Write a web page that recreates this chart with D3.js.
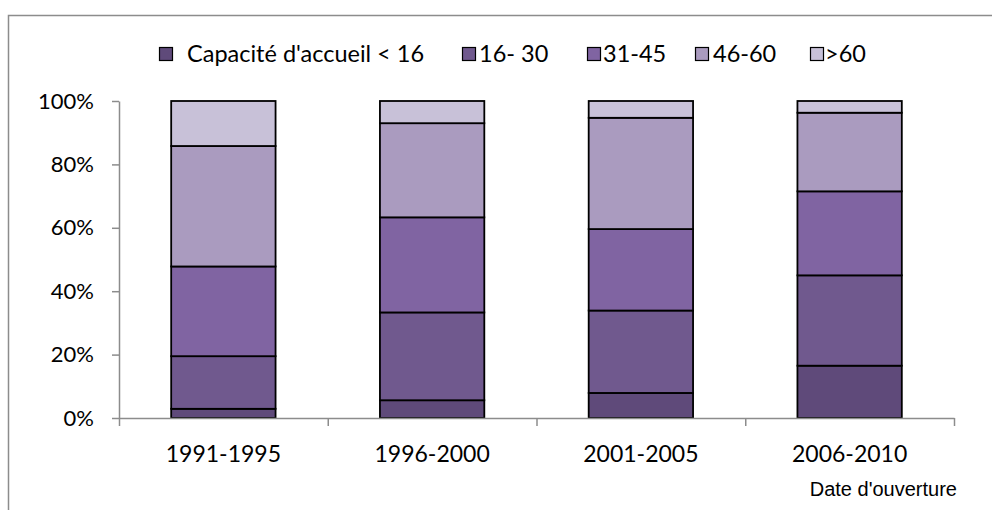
<!DOCTYPE html>
<html>
<head>
<meta charset="utf-8">
<script src="https://cdn.jsdelivr.net/npm/d3@7/dist/d3.min.js"></script>
<style>
  html, body { margin: 0; padding: 0; background: #fff; }
  svg { display: block; }
  text { font-family: Lato, "Open Sans", sans-serif; fill: #000; }
</style>
</head>
<body>
<svg id="chart" width="992" height="510"></svg>
<script>
// Opening periods
const categories = ["1991-1995", "1996-2000", "2001-2005", "2006-2010"];

// Capacity classes (legend order)
const seriesNames = ["Capacité d'accueil < 16", "16- 30", "31-45", "46-60", ">60"];

// Share of each capacity class per period, in %
const capLt16  = [2.9, 5.6, 7.9, 16.5];
const cap16_30 = [16.6, 27.7, 26.0, 28.5];
const cap31_45 = [28.3, 30.0, 25.7, 26.5];
const cap46_60 = [38.0, 29.7, 35.1, 24.8];
const capGt60  = [14.2, 7.0, 5.3, 3.7];

const yTicks = [0, 20, 40, 60, 80, 100];
const axisTitle = "Date d'ouverture";

const colors = ["#5f4a7a", "#70598e", "#8064a2", "#aa9bbf", "#c8c1d8"];

const seriesValues = [capLt16, cap16_30, cap31_45, cap46_60, capGt60];
const rows = categories.map((c, i) => {
  const r = { cat: c };
  seriesNames.forEach((s, j) => { r[s] = seriesValues[j][i]; });
  return r;
});

const svg = d3.select("#chart");

// outer frame of the chart area
svg.append("rect")
  .attr("x", 8.5).attr("y", 15.5)
  .attr("width", 1000).attr("height", 520)
  .attr("fill", "none")
  .attr("stroke", "#8c8c8c")
  .attr("stroke-width", 1.5);

const plotLeft = 119, plotRight = 954, plotTop = 101, plotBottom = 418;

const x = d3.scaleBand().domain(categories).range([plotLeft, plotRight])
  .paddingInner(0.5).paddingOuter(0.25);
const y = d3.scaleLinear().domain([0, 100]).range([plotBottom, plotTop]);
const xEdges = d3.scaleLinear().domain([0, categories.length]).range([plotLeft, plotRight]);

const stacked = d3.stack().keys(seriesNames)(rows);

// bars
const layers = svg.append("g").selectAll("g")
  .data(stacked).join("g")
  .attr("fill", (d, i) => colors[i]);

layers.selectAll("rect")
  .data(d => d).join("rect")
  .attr("x", d => x(d.data.cat))
  .attr("width", x.bandwidth())
  .attr("y", d => y(d[1]))
  .attr("height", d => y(d[0]) - y(d[1]))
  .attr("stroke", "#000")
  .attr("stroke-width", 1.8);

// y axis
const yAxis = svg.append("g")
  .attr("transform", `translate(${plotLeft},0)`)
  .call(d3.axisLeft(y).tickValues(yTicks).tickFormat(d => d + "%")
    .tickSize(7).tickSizeOuter(0).tickPadding(18));
yAxis.select(".domain").attr("stroke", "#8c8c8c").attr("stroke-width", 1.5);
yAxis.selectAll(".tick line").attr("stroke", "#8c8c8c").attr("stroke-width", 1.5);
yAxis.selectAll(".tick text")
  .style("font-family", "Lato, sans-serif")
  .attr("font-size", 22).attr("fill", "#000");

// x axis line with ticks between categories
const xAxis = svg.append("g")
  .attr("transform", `translate(0,${plotBottom})`)
  .call(d3.axisBottom(xEdges).tickValues(d3.range(categories.length + 1))
    .tickFormat("").tickSize(8).tickSizeOuter(0));
xAxis.select(".domain").attr("stroke", "#8c8c8c").attr("stroke-width", 1.5);
xAxis.selectAll(".tick line").attr("stroke", "#8c8c8c").attr("stroke-width", 1.5);

// category labels
svg.append("g").selectAll("text")
  .data(categories).join("text")
  .attr("x", d => x(d) + x.bandwidth() / 2)
  .attr("y", 462)
  .attr("text-anchor", "middle")
  .attr("font-size", 23)
  .text(d => d);

// axis title
svg.append("text")
  .attr("x", 957).attr("y", 496)
  .attr("text-anchor", "end")
  .style("font-family", "'Liberation Sans', Arial, sans-serif")
  .attr("font-size", 20)
  .text(axisTitle);

// legend
const legendX = [159, 462, 587, 695, 810];
const legendTextX = [187, 479, 603, 713, 825];
const legend = svg.append("g").selectAll("g")
  .data(seriesNames).join("g");
legend.append("rect")
  .attr("x", (d, i) => legendX[i] + 0.5)
  .attr("y", 47.5)
  .attr("width", 13).attr("height", 13)
  .attr("fill", (d, i) => colors[i])
  .attr("stroke", "#000").attr("stroke-width", 1.2);
legend.append("text")
  .attr("x", (d, i) => legendTextX[i])
  .attr("y", 62)
  .attr("font-size", 23.5)
  .text(d => d);
</script>
</body>
</html>
